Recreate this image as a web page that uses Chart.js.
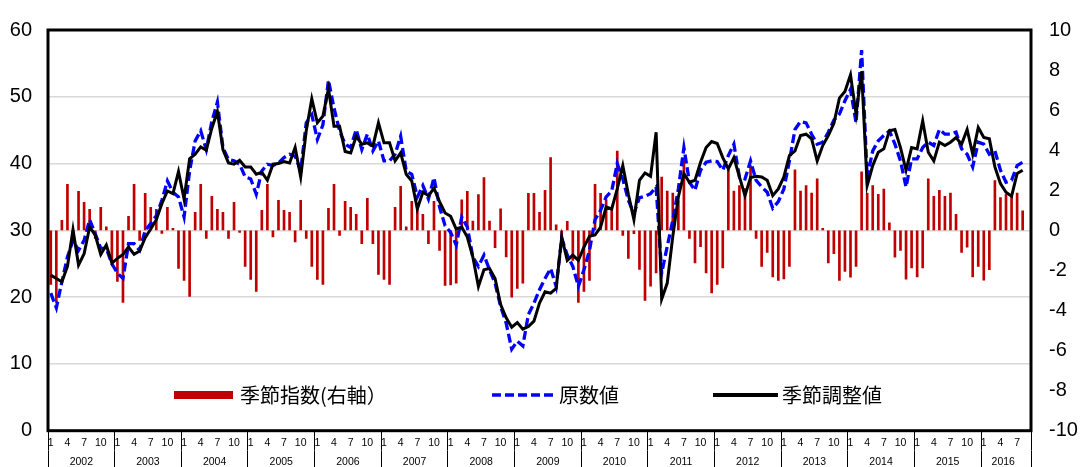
<!DOCTYPE html>
<html><head><meta charset="utf-8">
<script src="https://cdn.jsdelivr.net/npm/chart.js@4.4.1/dist/chart.umd.min.js"></script>
<style>
html,body{margin:0;padding:0;background:#fff;}
#wrap{position:relative;width:1081px;height:467px;overflow:hidden;}
canvas{display:block;}
.lgt{position:absolute;font-family:"Noto Sans CJK JP","Noto Sans",sans-serif;font-size:20px;line-height:20px;color:#000;white-space:nowrap;top:385px;}
.sw{position:absolute;}
</style></head><body>
<div id="wrap">
<canvas id="c" width="1081" height="467"></canvas>
<div class="sw" style="left:174px;top:391px;width:59px;height:8px;background:#c00000;"></div>
<div class="lgt" style="left:240px;">季節指数(右軸）</div>
<svg class="sw" style="left:492px;top:390px;" width="64" height="10"><line x1="0" y1="5" x2="64" y2="5" stroke="#0000ff" stroke-width="3.5" stroke-dasharray="9,4"/></svg>
<div class="lgt" style="left:559px;">原数値</div>
<div class="sw" style="left:713px;top:393px;width:65px;height:4px;background:#000;"></div>
<div class="lgt" style="left:782px;">季節調整値</div>
</div>
<script>
// ---- data ----
const years = [2002,2003,2004,2005,2006,2007,2008,2009,2010,2011,2012,2013,2014,2015,2016];
const monthsInLastYear = 9;
const monthTicks = [1,4,7,10];

const seasonalIndex = [
 -2.7,-3.6,0.5,2.3,-0.5,1.95,1.4,1.05,-0.4,1.15,0.17,-1.5,
 -2.55,-3.6,0.7,2.3,-0.5,1.85,1.15,1.05,-0.15,1.15,0.1,-1.9,
 -2.5,-3.3,0.9,2.3,-0.4,1.7,1.05,0.9,-0.4,1.4,-0.1,-1.8,
 -2.45,-3.05,1.0,2.3,-0.33,1.5,1.0,0.9,-0.58,1.5,-0.4,-1.8,
 -2.45,-2.7,1.1,2.3,-0.25,1.45,1.15,0.8,-0.66,1.6,-0.66,-2.2,
 -2.45,-2.7,1.15,2.2,0.17,1.45,1.15,0.8,-0.66,1.45,-1.0,-2.75,
 -2.72,-2.64,1.52,1.95,0.46,1.78,2.64,0.46,-0.86,1.07,-1.32,-3.33,
 -2.9,-2.64,1.85,1.85,0.9,2.0,3.63,0.28,-0.3,0.45,-1.5,-3.6,
 -3.05,-2.5,2.3,1.85,1.52,1.1,3.96,-0.25,-1.4,-0.17,-1.95,-3.5,
 -2.79,-2.13,2.66,1.96,1.86,1.47,3.56,-0.4,-1.63,-0.81,-2.13,-3.12,
 -2.7,-1.88,3.02,1.96,2.23,2.08,3.23,-0.4,-1.8,-1.1,-2.33,-2.5,
 -2.43,-1.8,3.02,1.96,2.23,1.86,2.57,0.1,-1.63,-1.17,-2.5,-2.05,
 -2.34,-1.8,2.92,1.86,2.23,1.8,2.06,0.38,-1.34,-1.0,-2.44,-1.88,
 -2.33,-1.88,2.57,1.7,2.0,1.7,1.86,0.8,-1.1,-0.84,-2.33,-1.8,
 -2.49,-1.96,2.49,1.63,1.8,1.75,1.86,0.97,null
];
const originalValues = [
 20.6,18.4,22.3,26.0,28.5,27.0,28.5,31.6,29.5,27.3,27.3,25.0,
 23.6,22.8,28.0,28.0,27.0,30.0,31.0,32.2,34.5,37.4,35.7,35.0,
 32.0,38.9,43.4,44.9,42.1,46.3,49.2,42.4,40.6,40.4,39.9,38.0,
 37.7,35.4,38.9,39.9,39.7,40.1,40.9,41.4,41.1,38.9,46.1,47.3,
 43.6,45.8,52.5,48.3,44.9,42.9,42.4,45.1,42.1,44.4,41.9,43.4,
 40.4,40.4,41.4,44.1,38.9,38.4,35.0,36.7,34.7,37.9,33.5,30.7,
 29.7,27.8,32.0,30.5,26.0,24.6,26.3,24.1,22.1,18.6,16.1,12.2,
 13.4,12.7,17.4,19.1,21.1,22.8,24.3,21.6,28.8,26.3,24.6,21.6,
 24.1,27.0,31.6,33.0,35.0,35.9,40.0,37.7,34.5,32.5,34.9,35.1,
 35.5,36.5,23.6,27.6,31.5,36.2,42.4,37.2,36.0,39.0,40.2,40.4,
 40.3,39.0,41.2,42.9,38.0,37.7,40.4,37.5,36.5,35.7,33.3,34.3,
 36.2,40.4,45.1,46.3,46.1,44.4,42.9,43.2,44.7,46.5,47.4,49.4,
 51.1,46.1,57.0,38.0,41.9,43.4,44.2,44.9,42.9,40.4,36.5,40.7,
 40.7,42.4,43.2,42.7,45.1,44.4,44.4,44.7,42.2,41.4,39.5,43.2,
 42.9,41.4,41.9,39.0,37.2,37.5,39.7,40.2,null
];
const adjustedValues = [
 23.3,22.8,22.3,24.6,30.1,24.8,26.5,30.5,29.3,26.4,27.8,25.1,
 25.8,26.4,27.5,26.4,26.9,28.9,30.2,31.6,34.0,35.9,35.5,38.8,
 34.7,40.7,41.4,42.5,42.0,45.3,47.8,42.1,40.1,39.9,40.5,39.5,
 39.5,38.4,38.7,37.5,39.9,40.0,40.3,40.1,42.4,38.0,44.9,49.7,
 46.1,47.1,51.2,45.6,45.6,41.8,41.6,44.1,42.9,43.1,42.6,46.1,
 43.1,43.1,40.4,41.6,38.4,37.4,33.2,35.7,35.2,36.3,34.3,32.6,
 32.1,30.2,30.5,29.0,26.0,21.6,24.1,24.3,22.8,18.9,16.9,15.5,
 16.2,15.2,15.6,16.4,19.1,20.8,20.6,21.3,29.0,25.5,26.3,25.5,
 27.5,29.1,29.3,30.5,33.5,33.2,36.2,39.7,35.4,31.6,37.5,38.6,
 38.1,44.7,19.7,22.1,29.1,35.0,38.5,37.2,37.5,40.2,42.4,43.3,
 43.0,40.9,39.2,40.9,38.0,35.2,37.9,38.1,38.0,37.5,35.2,36.2,
 38.0,41.2,41.9,44.2,44.4,43.7,40.4,42.7,44.2,46.0,49.8,50.8,
 53.3,47.4,53.8,36.7,39.7,41.7,42.2,44.9,45.1,42.4,39.0,42.4,
 42.2,46.4,41.7,40.4,43.2,42.7,43.2,43.9,42.9,45.1,41.4,45.4,
 43.9,43.7,39.5,37.0,35.7,35.1,38.5,39.0,null
];

// ---- categories ----
const categories = [], monthOf = [], yearLabelAt = [];
years.forEach((y, yi) => {
  const n = (yi === years.length - 1) ? monthsInLastYear : 12;
  const start = categories.length;
  for (let m = 1; m <= n; m++) { categories.push(y + '-' + m); monthOf.push(m); yearLabelAt.push(''); }
  yearLabelAt[start + Math.floor(n / 2)] = String(y);
});
const N = categories.length;
const isYearStart = i => (i < N ? monthOf[i] === 1 : true);

const framePlugin = {
  id: 'frame',
  afterDraw(chart) {
    const a = chart.chartArea, c = chart.ctx;
    c.save();
    c.strokeStyle = '#000'; c.lineWidth = 3;
    c.strokeRect(a.left, a.top, a.right - a.left, a.bottom - a.top);
    c.restore();
  }
};

Chart.defaults.font.family = '"Liberation Sans", Arial, sans-serif';
Chart.defaults.color = '#000';

const sepColor = ctx => isYearStart(ctx.index) ? '#000' : 'rgba(0,0,0,0)';

new Chart(document.getElementById('c'), {
  type: 'bar',
  data: {
    labels: categories,
    datasets: [
      { type: 'line', label: '季節調整値', data: adjustedValues, yAxisID: 'y', xAxisID: 'x',
        borderColor: '#000', borderWidth: 3, pointRadius: 0, tension: 0, order: 0 },
      { type: 'line', label: '原数値', data: originalValues, yAxisID: 'y', xAxisID: 'x',
        borderColor: '#0000ff', borderWidth: 3.3, borderDash: [9, 4], pointRadius: 0, tension: 0, order: 1 },
      { type: 'bar', label: '季節指数(右軸）', data: seasonalIndex, yAxisID: 'y2', xAxisID: 'x',
        backgroundColor: '#c00000', barThickness: 2, order: 2 }
    ]
  },
  options: {
    responsive: false, animation: false, devicePixelRatio: 1,
    layout: { padding: { top: 26, left: 0, right: 0, bottom: 0 } },
    plugins: { legend: { display: false }, tooltip: { enabled: false } },
    scales: {
      x: {
        type: 'category', position: 'bottom', offset: true,
        grid: { offset: true, drawOnChartArea: false, drawTicks: true, tickLength: 20, lineWidth: 1, color: sepColor },
        border: { display: false },
        ticks: { autoSkip: false, maxRotation: 0, minRotation: 0, padding: -14.3, font: { size: 10.5 }, color: '#000',
          callback: (v, i) => monthTicks.includes(monthOf[i]) ? String(monthOf[i]) : '' },
        afterFit: s => { s.height = 20; }
      },
      x2: {
        type: 'category', position: 'bottom', offset: true, labels: categories,
        grid: { offset: true, drawOnChartArea: false, drawTicks: true, tickLength: 17, lineWidth: 1, color: sepColor },
        border: { display: false },
        ticks: { autoSkip: false, maxRotation: 0, minRotation: 0, padding: -11.8, labelOffset: -2.78, font: { size: 10.5 }, color: '#000',
          callback: (v, i) => yearLabelAt[i] || '' },
        afterFit: s => { s.height = 16.3; }
      },
      y: {
        position: 'left', min: 0, max: 60,
        ticks: { stepSize: 10, padding: 16, font: { size: 20 }, color: '#000' },
        grid: { color: '#d9d9d9', lineWidth: 1.5, drawTicks: false },
        border: { display: false },
        afterFit: s => { s.width = 48; }
      },
      y2: {
        position: 'right', min: -10, max: 10,
        ticks: { stepSize: 2, padding: 18, font: { size: 20 }, color: '#000' },
        grid: { drawOnChartArea: false, drawTicks: false },
        border: { display: false },
        afterFit: s => { s.width = 50; }
      }
    }
  },
  plugins: [framePlugin]
});
</script>
</body></html>
